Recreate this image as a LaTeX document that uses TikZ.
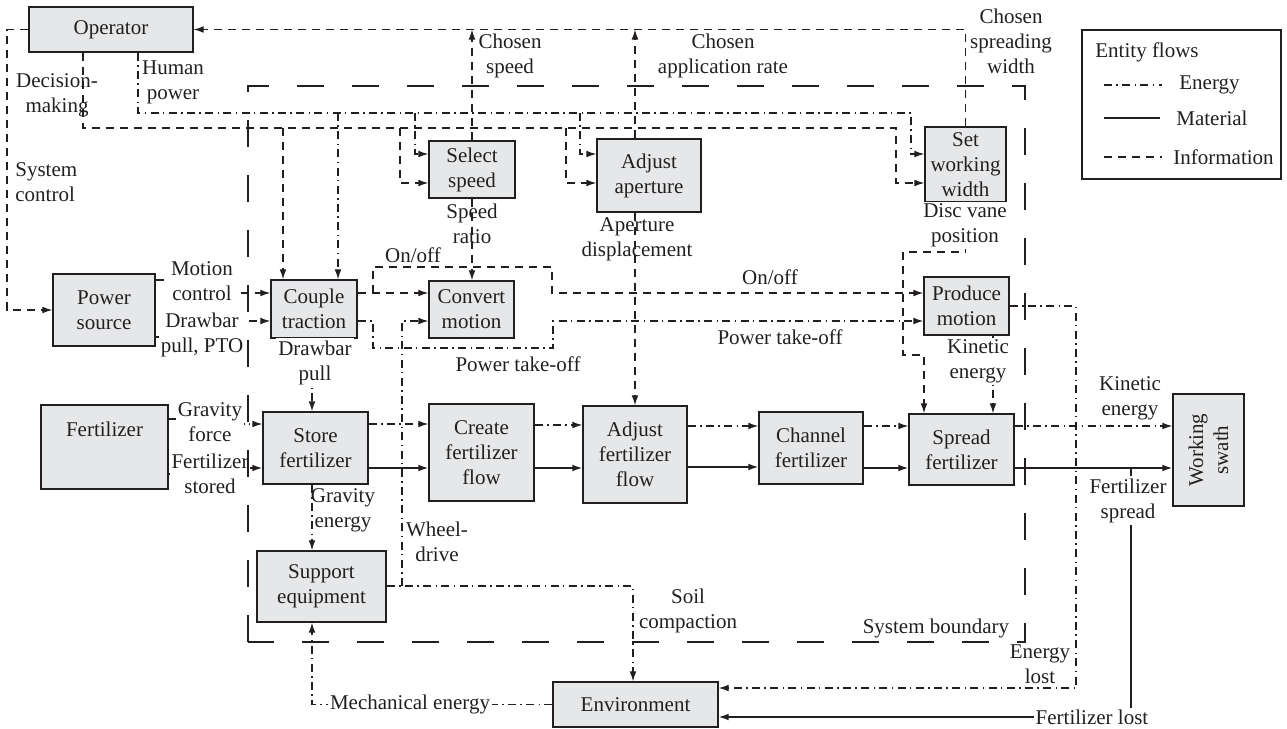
\documentclass[tikz,border=0pt]{standalone}
\usepackage{fontspec}
\setmainfont{Liberation Serif}
\usetikzlibrary{arrows.meta}
\definecolor{boxfill}{RGB}{230,231,232}
\definecolor{ink}{RGB}{35,31,32}
\begin{document}
\begin{tikzpicture}[x=0.5pt,y=-0.5pt,
  every node/.style={font=\fontsize{10.5}{12.5}\selectfont, text=ink, inner sep=0.5pt},
  box/.style 2 args={draw=ink, fill=boxfill, line width=0.7pt, align=center, minimum width=#1, minimum height=#2},
  lab/.style={align=center},
  wlab/.style={align=center, fill=white, inner sep=1pt},
  info/.style={draw=ink, line width=0.6pt, dash pattern=on 4pt off 3pt},
  en/.style={draw=ink, line width=0.6pt, dash pattern=on 4pt off 2.2pt on 0.7pt off 2.2pt},
  mat/.style={draw=ink, line width=0.7pt},
  arr/.style={-{Latex[length=5pt,width=3.4pt]}},
  bound/.style={draw=ink, line width=0.9pt, dash pattern=on 13.5pt off 14pt}
]
\useasboundingbox (0,0) rectangle (1287,729);

% ---------- boxes ----------
\node[box={82pt}{22.5pt}] (op) at (111,29.5) {Operator};
\node[box={43pt}{28.5pt}] (selsp) at (472,169.5) {Select\\speed};
\node[box={52pt}{36.5pt}] (adjap) at (649,175.5) {Adjust\\aperture};
\node[box={40.5pt}{37.5pt}] (setw) at (965.5,164.5) {Set\\working\\width};
\node[box={51pt}{36pt}] (pow) at (104,310) {Power\\source};
\node[box={43pt}{29pt}] (couple) at (314,309) {Couple\\traction};
\node[box={42.5pt}{28.5pt}] (conv) at (471.5,309.5) {Convert\\motion};
\node[box={42.5pt}{29pt}] (prod) at (966.5,306) {Produce\\motion};
\node[box={63.5pt}{42pt}] (fert) at (104.5,447) {};
\node (fertlab) at (104.5,429) {Fertilizer};
\node[box={52.5pt}{36pt}] (store) at (315.5,448) {Store\\fertilizer};
\node[box={52.5pt}{48.5pt}] (create) at (481.5,452.5) {Create\\fertilizer\\flow};
\node[box={52pt}{48.5pt}] (adjff) at (635,454.5) {Adjust\\fertilizer\\flow};
\node[box={52pt}{36pt}] (chan) at (811,448) {Channel\\fertilizer};
\node[box={52.5pt}{35.5pt}] (spread) at (961.5,449.5) {Spread\\fertilizer};
\node[box={35.5pt}{56pt}] (swath) at (1208.5,450) {};
\node[rotate=90, align=center] (swathlab) at (1208.5,450) {Working\\swath};
\node[box={64.5pt}{35.5pt}] (support) at (321.5,586.5) {Support\\equipment};
\node[box={82.5pt}{22.5pt}] (env) at (635.5,704.5) {Environment};

% ---------- information flows ----------
\draw[info,arr] (setw.north) |- (op.east);
\draw[info,arr] (selsp.north) -- (selsp.north |- op.east);
\draw[info,arr] (adjap.north -| adjff.north) -- (adjff.north |- op.east);
\draw[info,arr] (op.west) -- (op.west -| 7,0) |- (pow.west);
\draw[info,arr] (op.south -| 83,0) |- (896,128) |- (setw.west |- 0,183);
\draw[info,arr] (283,128) -- (283,0 |- couple.north);
\draw[info,arr] (400,128) |- (selsp.west |- 0,183);
\draw[info,arr] (566,128) |- (adjap.west |- 0,183);
\draw[info,arr] (selsp.south) -- (selsp.south |- conv.north);
\draw[info,arr] (adjap.south -| adjff.north) -- (adjff.north);
\draw[info,arr] (setw.south) -- (setw.south |- 0,252) -| (903,355) -| (spread.north -| 924,0);
\draw[info,arr] (couple.east |- 0,293) -- (conv.west |- 0,293);
\draw[info,arr] (373,293) |- (552,267) |- (prod.west |- 0,293);
\draw[info,arr] (pow.east |- 0,280) -- (200,280) |- (couple.west |- 0,293);

% ---------- energy flows ----------
\draw[en,arr] (op.south -| 138,0) |- (911,113) |- (setw.west |- 0,154);
\draw[en,arr] (338,113) -- (338,0 |- couple.north);
\draw[en,arr] (415,113) |- (selsp.west |- 0,154);
\draw[en,arr] (580,113) |- (adjap.west |- 0,154);
\draw[en,arr] (pow.east |- 0,337) -- (200,337) |- (couple.west |- 0,321);
\draw[en,arr] (fert.east |- 0,419) -- (205,419) |- (store.west |- 0,424);
\draw[en,arr] (couple.south -| 312,0) -- (store.north -| 312,0);
\draw[en,arr] (couple.east |- 0,321) -- (373,321) -- (373,348) -- (553,348) -- (553,321) -- (prod.west |- 0,321);
\draw[en,arr] (402,586) -- (402,321) -- (conv.west |- 0,321);
\draw[en,arr] (support.east |- 0,586) -- (633,586) -- (633,0 |- env.north);
\draw[en,arr] (store.south -| 312,0) -- (support.north -| 312,0);
\draw[en,arr] (env.west) -| (support.south -| 312,0);
\draw[en,arr] (store.east |- 0,424) -- (create.west |- 0,424);
\draw[en,arr] (create.east |- 0,425) -- (adjff.west |- 0,425);
\draw[en,arr] (adjff.east |- 0,426) -- (chan.west |- 0,426);
\draw[en,arr] (chan.east |- 0,426) -- (spread.west |- 0,426);
\draw[en,arr] (spread.east |- 0,426) -- (swath.west |- 0,426);
\draw[en,arr] (prod.east) -| (1076,688) -- (env.east |- 0,688);
\draw[en,arr] (prod.south -| 993,0) -- (spread.north -| 993,0);

% ---------- material flows ----------
\draw[mat,arr] (fert.east |- 0,474) -- (205,474) |- (store.west |- 0,468);
\draw[mat,arr] (store.east |- 0,468) -- (create.west |- 0,468);
\draw[mat,arr] (create.east |- 0,468) -- (adjff.west |- 0,468);
\draw[mat,arr] (adjff.east |- 0,467) -- (chan.west |- 0,467);
\draw[mat,arr] (chan.east |- 0,468) -- (spread.west |- 0,468);
\draw[mat,arr] (spread.east |- 0,468) -- (swath.west |- 0,468);
\draw[mat,arr] (1131,468) -- (1131,717) -- (env.east |- 0,717);

% ---------- labels ----------
\node[lab] (l1) at (1011,41) {Chosen\\spreading\\width};
\node[lab] (l2) at (510,55.5) {Chosen\\speed};
\node[lab] (l3) at (723,55.5) {Chosen\\application rate};
\node[lab] (l4) at (57,95.5) {Decision-\\making};
\node[lab] (l5) at (173,82.5) {Human\\power};
\node[align=left, anchor=west] (l6) at (14,182.5) {System\\control};
\node[lab] (l7) at (472,224) {Speed\\ratio};
\node[lab] (l8) at (637,239.5) {Aperture\\displacement};
\node[wlab] (l9) at (965,225.5) {Disc vane\\position};
\node[lab] (l10) at (413,255) {On/off};
\node[lab] (l11) at (770,277) {On/off};
\node[wlab] (l12) at (202,281.5) {Motion\\control};
\node[wlab] (l13) at (202,335) {Drawbar\\pull, PTO};
\node[wlab] (l14) at (315,362.5) {Drawbar\\pull};
\node[lab] (l15) at (518,364) {Power take-off};
\node[lab] (l16) at (780,337) {Power take-off};
\node[wlab] (l17) at (978,361.5) {Kinetic\\energy};
\node[lab] (l18) at (1130,398.5) {Kinetic\\energy};
\node[wlab] (l19) at (210,422.5) {Gravity\\force};
\node[wlab] (l20) at (210,473.5) {Fertilizer\\stored};
\node[lab] (l21) at (343,510) {Gravity\\energy};
\node[lab] (l22) at (437,541.5) {Wheel-\\drive};
\node[lab] (l23) at (688,611) {Soil\\compaction};
\node[lab] (l24) at (936,628) {System boundary};
\node[lab] (l25) at (1040,664.5) {Energy\\lost};
\node[wlab] (l26) at (1128,500.5) {Fertilizer\\spread};
\node[wlab] (l27) at (1092,717) {Fertilizer lost};
\node[wlab] (l28) at (410,704) {Mechanical energy};

% ---------- system boundary ----------
\draw[bound] (248,642) -- (248,86) -- (1025,86) -- (1025,642) -- cycle;

% ---------- legend ----------
\node[draw=ink, line width=0.7pt, minimum width=99.5pt, minimum height=74.5pt] (legend) at (1181.5,104.5) {};
\node[anchor=west] (lgt) at (1094,52) {Entity flows};
\draw[en] (1104,85) -- (1162,85);
\node[anchor=west] (lge) at (1178,85) {Energy};
\draw[mat] (1104,118) -- (1160,118);
\node[anchor=west] (lgm) at (1175,118) {Material};
\draw[info] (1104,157) -- (1162,157);
\node[anchor=west] (lgi) at (1172,157) {Information};
\end{tikzpicture}
\end{document}
